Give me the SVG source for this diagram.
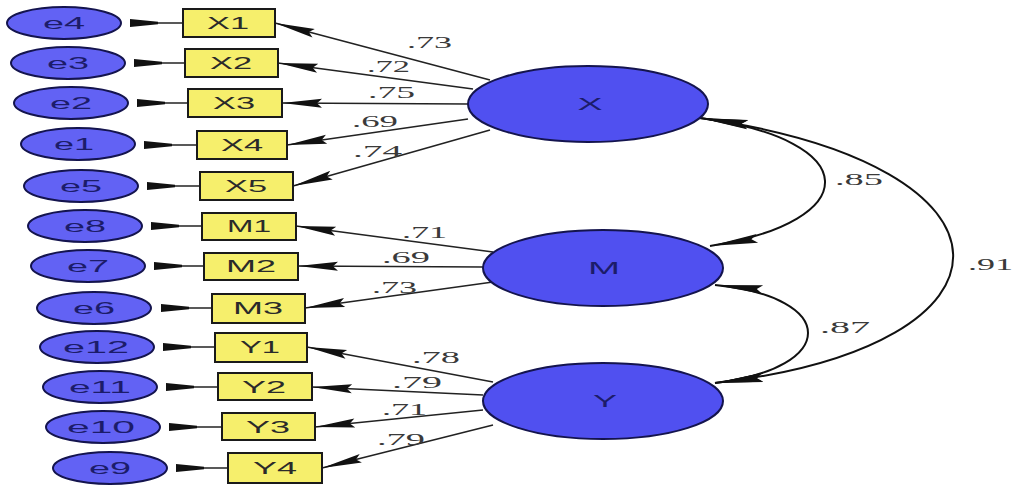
<svg xmlns="http://www.w3.org/2000/svg" width="1016" height="488" viewBox="0 0 1016 488">
  <style>
    .err ellipse { fill: #6262f4; stroke: #14144e; stroke-width: 2; }
    .lat ellipse { fill: #5050f0; stroke: #14144e; stroke-width: 2; }
    .obs rect { fill: #f6ef6c; stroke: #1a1a1a; stroke-width: 2; }
    .etxt { font-family: "Liberation Sans", Arial, sans-serif; font-size: 16px; fill: #1c1c6a; text-anchor: middle; }
    .otxt { font-family: "Liberation Sans", Arial, sans-serif; font-size: 16px; fill: #2a2a2a; text-anchor: middle; }
    .ltxt { font-family: "Liberation Sans", Arial, sans-serif; font-size: 16px; fill: #1c1c6a; text-anchor: middle; }
    .coef { font-family: "Liberation Serif", "Times New Roman", serif; font-size: 16px; fill: #3a3a3a; }
    .path { fill: none; stroke: #222; stroke-width: 1.6; }
    .cov { fill: none; stroke: #111; stroke-width: 2; }
  </style>
  <defs>
    <marker id="head" viewBox="-46 -6 48 12" refX="0" refY="0" markerWidth="48" markerHeight="12" markerUnits="userSpaceOnUse" orient="auto-start-reverse">
      <path d="M0,0 L-40,-4.5 L-35,0 L-40,4.5 Z" fill="#111"/>
    </marker>
    <marker id="headLong" viewBox="-52 -6 54 12" refX="0" refY="0" markerWidth="54" markerHeight="12" markerUnits="userSpaceOnUse" orient="auto-start-reverse">
      <path d="M0,0 L-48,-4.5 L-42,0 L-48,4.5 Z" fill="#111"/>
    </marker>
    <!-- blunt wedge drawn at the error-term end of each residual path -->
    <path id="wedge" d="M0,-4 L0,4 L28,1.2 L28,-1.2 Z" fill="#111"/>
  </defs>
  <rect width="1016" height="488" fill="#fff"/>

  <!-- connectors -->
  <g id="connectors">
    <!-- error terms to indicators -->
    <g id="error-paths">
      <line class="path" x1="130" y1="23" x2="183" y2="23"/><use href="#wedge" x="130" y="23"/>
      <line class="path" x1="134" y1="63" x2="185" y2="63"/><use href="#wedge" x="134" y="63"/>
      <line class="path" x1="137" y1="103" x2="188" y2="103"/><use href="#wedge" x="137" y="103"/>
      <line class="path" x1="144" y1="145" x2="197" y2="145"/><use href="#wedge" x="144" y="145"/>
      <line class="path" x1="147" y1="186" x2="200" y2="186"/><use href="#wedge" x="147" y="186"/>
      <line class="path" x1="151" y1="226" x2="202" y2="226"/><use href="#wedge" x="151" y="226"/>
      <line class="path" x1="154" y1="266" x2="204" y2="266"/><use href="#wedge" x="154" y="266"/>
      <line class="path" x1="161" y1="308" x2="212" y2="308"/><use href="#wedge" x="161" y="308"/>
      <line class="path" x1="163" y1="347" x2="215" y2="347"/><use href="#wedge" x="163" y="347"/>
      <line class="path" x1="166" y1="387" x2="218" y2="387"/><use href="#wedge" x="166" y="387"/>
      <line class="path" x1="169" y1="427" x2="222" y2="427"/><use href="#wedge" x="169" y="427"/>
      <line class="path" x1="176" y1="468" x2="228" y2="468"/><use href="#wedge" x="176" y="468"/>
    </g>
    <!-- factor loadings -->
    <g id="loadings">
      <line class="path" x1="490" y1="80" x2="275" y2="23" marker-end="url(#head)"/>
      <line class="path" x1="473" y1="89" x2="278" y2="63" marker-end="url(#head)"/>
      <line class="path" x1="468" y1="104" x2="282" y2="103" marker-end="url(#head)"/>
      <line class="path" x1="468" y1="119" x2="287" y2="145" marker-end="url(#head)"/>
      <line class="path" x1="490" y1="130" x2="293" y2="186" marker-end="url(#head)"/>
      <line class="path" x1="493" y1="252" x2="296" y2="226" marker-end="url(#head)"/>
      <line class="path" x1="483" y1="267" x2="298" y2="266" marker-end="url(#head)"/>
      <line class="path" x1="493" y1="282" x2="305" y2="308" marker-end="url(#head)"/>
      <line class="path" x1="493" y1="382" x2="307" y2="347" marker-end="url(#head)"/>
      <line class="path" x1="483" y1="395" x2="312" y2="387" marker-end="url(#head)"/>
      <line class="path" x1="483" y1="410" x2="315" y2="427" marker-end="url(#head)"/>
      <line class="path" x1="493" y1="425" x2="322" y2="468" marker-end="url(#head)"/>
    </g>
    <!-- correlations between latent factors -->
    <g id="covariances">
      <path class="cov" d="M700,118 C865,140 865,221 710,246" marker-start="url(#headLong)" marker-end="url(#headLong)"/>
      <path class="cov" d="M700,118 C1035,165 1035,346 715,383" marker-start="url(#headLong)" marker-end="url(#headLong)"/>
      <path class="cov" d="M715,285 C839,297 839,368 715,383" marker-start="url(#headLong)" marker-end="url(#headLong)"/>
    </g>
  </g>

  <!-- coefficients -->
  <g id="coefficients">
    <text class="coef" x="407" y="48" textLength="45" lengthAdjust="spacingAndGlyphs">.73</text>
    <text class="coef" x="367" y="72" textLength="43" lengthAdjust="spacingAndGlyphs">.72</text>
    <text class="coef" x="368" y="98" textLength="47" lengthAdjust="spacingAndGlyphs">.75</text>
    <text class="coef" x="352" y="127" textLength="46" lengthAdjust="spacingAndGlyphs">.69</text>
    <text class="coef" x="353" y="157" textLength="49" lengthAdjust="spacingAndGlyphs">.74</text>
    <text class="coef" x="402" y="238" textLength="45" lengthAdjust="spacingAndGlyphs">.71</text>
    <text class="coef" x="382" y="263" textLength="48" lengthAdjust="spacingAndGlyphs">.69</text>
    <text class="coef" x="372" y="293" textLength="45" lengthAdjust="spacingAndGlyphs">.73</text>
    <text class="coef" x="412" y="363" textLength="48" lengthAdjust="spacingAndGlyphs">.78</text>
    <text class="coef" x="392" y="388" textLength="50" lengthAdjust="spacingAndGlyphs">.79</text>
    <text class="coef" x="382" y="415" textLength="45" lengthAdjust="spacingAndGlyphs">.71</text>
    <text class="coef" x="377" y="445" textLength="48" lengthAdjust="spacingAndGlyphs">.79</text>
    <text class="coef" x="835" y="185" textLength="48" lengthAdjust="spacingAndGlyphs">.85</text>
    <text class="coef" x="968" y="270" textLength="45" lengthAdjust="spacingAndGlyphs">.91</text>
    <text class="coef" x="820" y="333" textLength="50" lengthAdjust="spacingAndGlyphs">.87</text>
  </g>

  <!-- error terms -->
  <g id="e4" class="err"><ellipse cx="64" cy="23" rx="57" ry="16"/><text class="etxt" x="64" y="29" textLength="42" lengthAdjust="spacingAndGlyphs">e4</text></g>
  <g id="e3" class="err"><ellipse cx="68" cy="63" rx="57" ry="16"/><text class="etxt" x="68" y="69" textLength="42" lengthAdjust="spacingAndGlyphs">e3</text></g>
  <g id="e2" class="err"><ellipse cx="71" cy="103" rx="57" ry="16"/><text class="etxt" x="71" y="109" textLength="42" lengthAdjust="spacingAndGlyphs">e2</text></g>
  <g id="e1" class="err"><ellipse cx="78" cy="144" rx="57" ry="16"/><text class="etxt" x="74" y="150" textLength="40" lengthAdjust="spacingAndGlyphs">e1</text></g>
  <g id="e5" class="err"><ellipse cx="81" cy="186" rx="57" ry="16"/><text class="etxt" x="81" y="192" textLength="42" lengthAdjust="spacingAndGlyphs">e5</text></g>
  <g id="e8" class="err"><ellipse cx="85" cy="226" rx="57" ry="16"/><text class="etxt" x="85" y="232" textLength="42" lengthAdjust="spacingAndGlyphs">e8</text></g>
  <g id="e7" class="err"><ellipse cx="88" cy="266" rx="57" ry="16"/><text class="etxt" x="88" y="272" textLength="42" lengthAdjust="spacingAndGlyphs">e7</text></g>
  <g id="e6" class="err"><ellipse cx="94" cy="308" rx="57" ry="16"/><text class="etxt" x="94" y="314" textLength="42" lengthAdjust="spacingAndGlyphs">e6</text></g>
  <g id="e12" class="err"><ellipse cx="97" cy="347" rx="57" ry="16"/><text class="etxt" x="96" y="353" textLength="66" lengthAdjust="spacingAndGlyphs">e12</text></g>
  <g id="e11" class="err"><ellipse cx="100" cy="387" rx="57" ry="16"/><text class="etxt" x="100" y="393" textLength="62" lengthAdjust="spacingAndGlyphs">e11</text></g>
  <g id="e10" class="err"><ellipse cx="103" cy="427" rx="57" ry="16"/><text class="etxt" x="101" y="433" textLength="68" lengthAdjust="spacingAndGlyphs">e10</text></g>
  <g id="e9" class="err"><ellipse cx="110" cy="468" rx="57" ry="16"/><text class="etxt" x="110" y="474" textLength="42" lengthAdjust="spacingAndGlyphs">e9</text></g>

  <!-- observed indicators -->
  <g id="X1" class="obs"><rect x="183" y="9" width="92" height="28"/><text class="otxt" x="228" y="29" textLength="42" lengthAdjust="spacingAndGlyphs">X1</text></g>
  <g id="X2" class="obs"><rect x="185" y="49" width="93" height="28"/><text class="otxt" x="231" y="69" textLength="42" lengthAdjust="spacingAndGlyphs">X2</text></g>
  <g id="X3" class="obs"><rect x="188" y="89" width="94" height="28"/><text class="otxt" x="234" y="109" textLength="42" lengthAdjust="spacingAndGlyphs">X3</text></g>
  <g id="X4" class="obs"><rect x="197" y="131" width="90" height="28"/><text class="otxt" x="242" y="151" textLength="42" lengthAdjust="spacingAndGlyphs">X4</text></g>
  <g id="X5" class="obs"><rect x="200" y="172" width="93" height="28"/><text class="otxt" x="246" y="192" textLength="42" lengthAdjust="spacingAndGlyphs">X5</text></g>
  <g id="M1" class="obs"><rect x="202" y="213" width="94" height="27"/><text class="otxt" x="249" y="232" textLength="44" lengthAdjust="spacingAndGlyphs">M1</text></g>
  <g id="M2" class="obs"><rect x="204" y="253" width="94" height="27"/><text class="otxt" x="251" y="272" textLength="50" lengthAdjust="spacingAndGlyphs">M2</text></g>
  <g id="M3" class="obs"><rect x="212" y="294" width="93" height="29"/><text class="otxt" x="258" y="314" textLength="50" lengthAdjust="spacingAndGlyphs">M3</text></g>
  <g id="Y1" class="obs"><rect x="215" y="333" width="92" height="29"/><text class="otxt" x="260" y="353" textLength="40" lengthAdjust="spacingAndGlyphs">Y1</text></g>
  <g id="Y2" class="obs"><rect x="218" y="373" width="94" height="27"/><text class="otxt" x="264" y="393" textLength="44" lengthAdjust="spacingAndGlyphs">Y2</text></g>
  <g id="Y3" class="obs"><rect x="222" y="413" width="93" height="27"/><text class="otxt" x="268" y="433" textLength="44" lengthAdjust="spacingAndGlyphs">Y3</text></g>
  <g id="Y4" class="obs"><rect x="228" y="453" width="94" height="30"/><text class="otxt" x="275" y="474" textLength="44" lengthAdjust="spacingAndGlyphs">Y4</text></g>

  <!-- latent factors -->
  <g id="X" class="lat"><ellipse cx="588" cy="104" rx="120" ry="38"/><text class="ltxt" x="590" y="110" textLength="25" lengthAdjust="spacingAndGlyphs">X</text></g>
  <g id="M" class="lat"><ellipse cx="603" cy="268" rx="120" ry="38"/><text class="ltxt" x="604" y="274" textLength="32" lengthAdjust="spacingAndGlyphs">M</text></g>
  <g id="Y" class="lat"><ellipse cx="603" cy="401" rx="120" ry="38"/><text class="ltxt" x="605" y="407" textLength="24" lengthAdjust="spacingAndGlyphs">Y</text></g>
</svg>
